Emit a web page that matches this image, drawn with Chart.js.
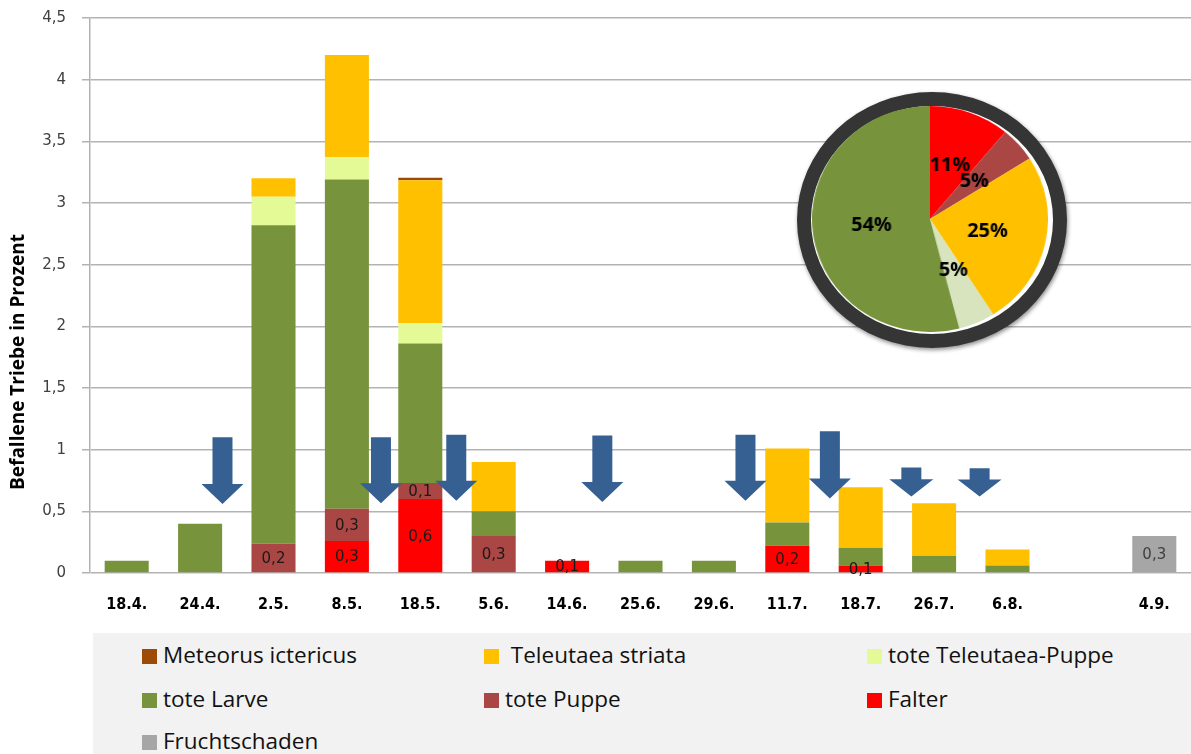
<!DOCTYPE html>
<html lang="de">
<head>
<meta charset="utf-8">
<title>Befallene Triebe</title>
<script src="https://cdn.jsdelivr.net/npm/chart.js@4.4.0/dist/chart.umd.min.js"></script>
<style>
  html, body { margin: 0; padding: 0; background: #fff; }
  body { width: 1191px; height: 754px; position: relative; overflow: hidden; }
  #barWrap { position: absolute; left: 0; top: 0; width: 1191px; height: 630px; }
  #ring {
    position: absolute; left: 797px; top: 92px; width: 270px; height: 256px;
    box-sizing: border-box; border: 14px solid #353535; border-radius: 50%;
    background: #fff; box-shadow: 1px 2px 4px rgba(0,0,0,0.45);
  }
  #pieWrap { position: absolute; left: 812px; top: 106px; width: 226px; height: 226px;
    transform-origin: 0 0; transform: scale(1.044, 1); }
  #legend { position: absolute; left: 93px; top: 633px; width: 1098px; height: 121px; background: #f2f2f2;
    font-family: "Open Sans", Lato, sans-serif; font-size: 22.5px; color: #111; }
  .item { position: absolute; white-space: pre; line-height: 24px; }
  .item span.sw { display: inline-block; width: 15px; height: 15px; margin-right: 6px; vertical-align: -1px; }
</style>
</head>
<body>
<div id="barWrap"><canvas id="barChart" width="1191" height="630"></canvas></div>
<div id="ring"></div>
<div id="pieWrap"><canvas id="pieChart" width="226" height="226"></canvas></div>
<div id="legend"></div>

<script>
// ---- data ----
var dates = ['18.4.', '24.4.', '2.5.', '8.5.', '18.5.', '5.6.', '14.6.', '25.6.', '29.6.', '11.7.', '18.7.', '26.7.', '6.8.', '', '4.9.'];

var falter        = [0,   0,   0,    0.26, 0.6,   0,    0.1, 0,   0,   0.22, 0.06,  0,     0,    0, 0];
var totePuppe     = [0,   0,   0.24, 0.26, 0.13,  0.3,  0,   0,   0,   0,    0,     0,     0,    0, 0];
var toteLarve     = [0.1, 0.4, 2.58, 2.67, 1.13,  0.2,  0,   0.1, 0.1, 0.19, 0.145, 0.14,  0.06, 0, 0];
var toteTelPuppe  = [0,   0,   0.23, 0.18, 0.165, 0,    0,   0,   0,   0,    0,     0,     0,    0, 0];
var teleutaea     = [0,   0,   0.15, 0.83, 1.16,  0.4,  0,   0,   0,   0.6,  0.49,  0.425, 0.13, 0, 0];
var meteorus      = [0,   0,   0,    0,    0.02,  0,    0,   0,   0,   0,    0,     0,     0,    0, 0];
var fruchtschaden = [0,   0,   0,    0,    0,     0,    0,   0,   0,   0,    0,     0,     0,    0, 0.3];

var yTicks = [0, 0.5, 1, 1.5, 2, 2.5, 3, 3.5, 4, 4.5];
var yTitle = 'Befallene Triebe in Prozent';

// treatment arrows: position on the category axis, top and tip in %
var arrowAt  = [1.305, 3.464, 4.49, 6.48, 8.43, 9.58, 10.69, 11.62];
var arrowTop = [1.10,  1.10,  1.12, 1.115, 1.12, 1.15, 0.855, 0.85];
var arrowTip = [0.56,  0.565, 0.585, 0.575, 0.586, 0.605, 0.62, 0.62];

// pie inset
var pieLabels = ['Falter', 'tote Puppe', 'Teleutaea striata', 'tote Teleutaea-Puppe', 'tote Larve'];
var pieValues = [11, 5, 25, 5, 54];

// ---- colours ----
var colors = {
  'Meteorus ictericus': '#9c4a06',
  ' Teleutaea striata': '#ffc000',
  'tote Teleutaea-Puppe': '#e4fa96',
  'tote Larve': '#77933c',
  'tote Puppe': '#aa4643',
  'Falter': '#ff0000',
  'Fruchtschaden': '#a6a6a6'
};
var pieColors = ['#ff0000', '#aa4643', '#ffc000', '#d7e4bd', '#77933c'];

function comma(v) { return String(v).replace('.', ','); }

// stacking order bottom -> top
var datasets = [
  { label: 'Falter', data: falter, showValue: true },
  { label: 'tote Puppe', data: totePuppe, showValue: true },
  { label: 'tote Larve', data: toteLarve },
  { label: 'tote Teleutaea-Puppe', data: toteTelPuppe },
  { label: ' Teleutaea striata', data: teleutaea },
  { label: 'Meteorus ictericus', data: meteorus },
  { label: 'Fruchtschaden', data: fruchtschaden, showValue: true, valueColor: '#404040' }
].map(function (d) {
  d.backgroundColor = colors[d.label];
  d.borderWidth = 0;
  d.barPercentage = 0.6;
  d.categoryPercentage = 1;
  return d;
});

// value labels inside the bar segments
var valueLabels = {
  id: 'valueLabels',
  afterDatasetsDraw: function (chart) {
    var ctx = chart.ctx;
    ctx.save();
    ctx.font = '15px "DejaVu Sans", sans-serif';
    ctx.textAlign = 'center';
    ctx.textBaseline = 'middle';
    chart.data.datasets.forEach(function (ds, i) {
      if (!ds.showValue) return;
      chart.getDatasetMeta(i).data.forEach(function (bar, j) {
        var v = ds.data[j];
        if (!v) return;
        ctx.fillStyle = ds.valueColor || '#1a1a1a';
        ctx.fillText(comma(Math.round(v * 10) / 10), bar.x, (bar.y + bar.base) / 2 + 1);
      });
    });
    ctx.restore();
  }
};

// blue down arrows
var arrows = {
  id: 'arrows',
  afterDatasetsDraw: function (chart) {
    var ctx = chart.ctx, xs = chart.scales.x, ys = chart.scales.y;
    ctx.save();
    ctx.fillStyle = '#376092';
    for (var i = 0; i < arrowAt.length; i++) {
      var x = xs.getPixelForValue(arrowAt[i]);
      var top = ys.getPixelForValue(arrowTop[i]);
      var tip = ys.getPixelForValue(arrowTip[i]);
      var head = Math.min(20, (tip - top) * 0.6);
      var sw = 10, hw = i >= 6 ? 22 : 21;
      ctx.beginPath();
      ctx.moveTo(x - sw, top);
      ctx.lineTo(x + sw, top);
      ctx.lineTo(x + sw, tip - head);
      ctx.lineTo(x + hw, tip - head);
      ctx.lineTo(x, tip);
      ctx.lineTo(x - hw, tip - head);
      ctx.lineTo(x - sw, tip - head);
      ctx.closePath();
      ctx.fill();
    }
    ctx.restore();
  }
};

// y axis title, placed a bit below the middle like in the original
var axisTitle = {
  id: 'axisTitle',
  afterDraw: function (chart) {
    var ctx = chart.ctx;
    ctx.save();
    ctx.translate(19, 362);
    ctx.rotate(-Math.PI / 2);
    ctx.font = "bold 19px 'Open Sans', sans-serif";
    ctx.fillStyle = '#000';
    ctx.textAlign = 'center';
    ctx.textBaseline = 'middle';
    ctx.fillText(yTitle, 0, 0);
    ctx.restore();
  }
};

new Chart(document.getElementById('barChart'), {
  type: 'bar',
  data: { labels: dates, datasets: datasets },
  options: {
    responsive: false,
    animation: false,
    layout: { autoPadding: false, padding: { top: 18, left: 0, right: 0, bottom: 0 } },
    plugins: { legend: { display: false }, tooltip: { enabled: false } },
    scales: {
      x: {
        stacked: true,
        grid: { display: false, drawTicks: false },
        border: { display: false },
        ticks: {
          color: '#000',
          padding: 22,
          maxRotation: 0,
          autoSkip: false,
          font: { family: "'Liberation Sans Narrow', 'DejaVu Sans Condensed', sans-serif", weight: 'bold', size: 16 }
        },
        afterFit: function (s) { s.height = 57; s.paddingLeft = 0; s.paddingRight = 0; }
      },
      y: {
        stacked: true,
        min: 0,
        max: 4.5,
        afterBuildTicks: function (s) { s.ticks = yTicks.map(function (v) { return { value: v }; }); },
        grid: { color: '#b3b3b3', lineWidth: 1.5, tickLength: 8 },
        border: { color: '#b3b3b3', width: 1.5 },
        ticks: {
          color: '#404040',
          padding: 16,
          font: { family: "'DejaVu Sans', sans-serif", size: 15 },
          callback: function (v) { return comma(v); }
        },
        afterFit: function (s) { s.width = 90; s.paddingTop = 0; s.paddingBottom = 0; }
      }
    }
  },
  plugins: [valueLabels, arrows, axisTitle]
});

// pie percentages
var pieText = {
  id: 'pieText',
  afterDatasetsDraw: function (chart) {
    var ctx = chart.ctx;
    ctx.save();
    ctx.font = 'bold 19px "Open Sans", Lato, sans-serif';
    ctx.fillStyle = '#000';
    ctx.textAlign = 'center';
    ctx.textBaseline = 'middle';
    chart.getDatasetMeta(0).data.forEach(function (arc, i) {
      var p = arc.getCenterPoint();
      ctx.fillText(pieValues[i] + '%', p.x, p.y);
    });
    ctx.restore();
  }
};

new Chart(document.getElementById('pieChart'), {
  type: 'pie',
  data: {
    labels: pieLabels,
    datasets: [{ data: pieValues, backgroundColor: pieColors, borderWidth: 0 }]
  },
  options: {
    responsive: false,
    animation: false,
    layout: { padding: 0 },
    plugins: { legend: { display: false }, tooltip: { enabled: false } }
  },
  plugins: [pieText]
});

// legend (3 columns, Excel order)
var legendOrder = ['Meteorus ictericus', ' Teleutaea striata', 'tote Teleutaea-Puppe', 'tote Larve', 'tote Puppe', 'Falter', 'Fruchtschaden'];
var colX = [49, 391, 774];
var rowY = [10, 54, 96];
var lg = document.getElementById('legend');
legendOrder.forEach(function (name, i) {
  var el = document.createElement('div');
  el.className = 'item';
  el.style.left = colX[i % 3] + 'px';
  el.style.top = rowY[Math.floor(i / 3)] + 'px';
  el.innerHTML = '<span class="sw" style="background:' + colors[name] + '"></span>' + name;
  lg.appendChild(el);
});
</script>
</body>
</html>
